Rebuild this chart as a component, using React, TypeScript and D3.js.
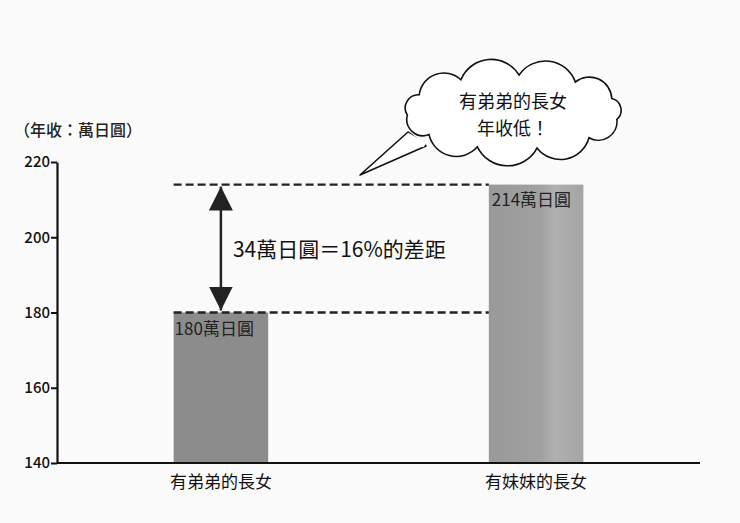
import * as React from 'react';
import {scaleLinear, scaleBand, axisLeft, select} from 'd3';

const categories = ['有弟弟的長女', '有妹妹的長女'];
const incomes = [180, 214];
const valueLabels = ['180萬日圓', '214萬日圓'];
const yTicks = [140, 160, 180, 200, 220];
const gapLabel = '34萬日圓＝16%的差距';
const unitLabel = '（年收：萬日圓）';
const bubbleLines = ['有弟弟的長女', '年收低！'];

const W = 740, H = 523;
const margin = {left: 57, right: 40, top: 162, bottom: 60};
const FONT = '"Noto Sans CJK TC", "Noto Sans", sans-serif';

// cloud outline made of bumps around an ellipse
function cloudPath(cx: number, cy: number, rx: number, ry: number, n: number) {
  const pts: [number, number][] = [];
  for (let i = 0; i < n; i++) {
    const a = (i / n) * Math.PI * 2 + 0.2;
    pts.push([cx + rx * Math.cos(a), cy + ry * Math.sin(a)]);
  }
  let d = `M${pts[0][0]},${pts[0][1]}`;
  for (let i = 1; i <= n; i++) {
    const p = pts[i % n];
    const prev = pts[i - 1];
    const r = Math.hypot(p[0] - prev[0], p[1] - prev[1]) * 0.56;
    d += ` A${r},${r} 0 0 1 ${p[0]},${p[1]}`;
  }
  return d + 'Z';
}

export default function App() {
  const axisRef = React.useRef<SVGGElement>(null);
  const plotW = 700 - margin.left;
  const plotH = 463 - margin.top;

  const y = scaleLinear().domain([140, 220]).range([plotH, 0]);
  const x = scaleBand().domain(categories).range([0, plotW]).paddingInner(0.7).paddingOuter(0.37);

  React.useEffect(() => {
    const g = axisRef.current;
    if (!g) return;
    const sel = select(g);
    sel.selectAll('*').remove();
    sel.call(axisLeft(y).tickValues(yTicks).tickSize(6).tickSizeOuter(0) as any);
    sel.select('.domain').attr('stroke', '#111').attr('stroke-width', 2.2);
    sel.selectAll('.tick line').attr('stroke', '#111').attr('stroke-width', 2);
    sel.selectAll('.tick text')
      .attr('font-family', FONT)
      .attr('font-size', 15)
      .attr('font-weight', 500)
      .attr('fill', '#111')
      .attr('x', -7);
  }, []);

  const b0 = x(categories[0])!;
  const b1 = x(categories[1])!;
  const bw = x.bandwidth();
  const yLow = y(incomes[0]);
  const yHigh = y(incomes[1]);
  const arrowX = b0 + bw * 0.5;

  return (
    <svg width={W} height={H} style={{position: 'absolute', left: 0, top: 0, background: '#fbfbfb'}}>
      <defs>
        <linearGradient id="bar2" x1="0" x2="1" y1="0" y2="0">
          <stop offset="0" stopColor="#999" />
          <stop offset="0.55" stopColor="#a1a1a1" />
          <stop offset="0.7" stopColor="#b0b0b0" />
          <stop offset="1" stopColor="#a4a4a4" />
        </linearGradient>
        <marker id="ah" viewBox="0 0 10 10" refX="10" refY="5" markerUnits="userSpaceOnUse"
          markerWidth="24" markerHeight="26" orient="auto-start-reverse">
          <path d="M0,0 L10,5 L0,10 Z" fill="#222" />
        </marker>
      </defs>
      <text x={14} y={136} fontFamily={FONT} fontSize={16} fontWeight={500} fill="#222">{unitLabel}</text>
      <g transform={`translate(${margin.left},${margin.top})`}>
        <rect x={b0} y={yLow} width={bw} height={plotH - yLow} fill="#8c8c8c" />
        <rect x={b1} y={yHigh} width={bw} height={plotH - yHigh} fill="url(#bar2)" />
        <text x={b0 + 1} y={yLow + 22} fontFamily={FONT} fontSize={17} fill="#222">{valueLabels[0]}</text>
        <text x={b1 + 3} y={yHigh + 21} fontFamily={FONT} fontSize={17} fill="#222">{valueLabels[1]}</text>
        <line x1={b0} x2={b1} y1={yHigh} y2={yHigh} stroke="#222" strokeWidth={2.4} strokeDasharray="8,4" />
        <line x1={b0} x2={b1} y1={yLow} y2={yLow} stroke="#222" strokeWidth={2.4} strokeDasharray="8,4" />
        <line x1={arrowX} x2={arrowX} y1={yHigh + 2} y2={yLow - 2} stroke="#222" strokeWidth={2.5}
          markerStart="url(#ah)" markerEnd="url(#ah)" />
        <text x={arrowX + 12} y={(yHigh + yLow) / 2 + 8} fontFamily={FONT} fontSize={21} fill="#111">{gapLabel}</text>
        <g ref={axisRef} />
        <line x1={0} x2={plotW} y1={plotH} y2={plotH} stroke="#111" strokeWidth={2.2} />
        {categories.map((c) => (
          <text key={c} x={x(c)! + bw / 2} y={plotH + 25} textAnchor="middle" fontFamily={FONT} fontSize={17} fill="#111">{c}</text>
        ))}
      </g>
      <path d="M408,132 L360,175 L426,146 Z" fill="#fff" stroke="#111" strokeWidth={1.6} strokeLinejoin="round" />
      <path d={cloudPath(513, 112, 106, 37, 11)} fill="#fff" stroke="#111" strokeWidth={1.6} />
      <path d="M407,135 L425,145" stroke="#fff" strokeWidth={5} />
      {bubbleLines.map((t, i) => (
        <text key={t} x={513} y={108 + i * 27} textAnchor="middle" fontFamily={FONT} fontSize={18} fill="#111">{t}</text>
      ))}
    </svg>
  );
}
